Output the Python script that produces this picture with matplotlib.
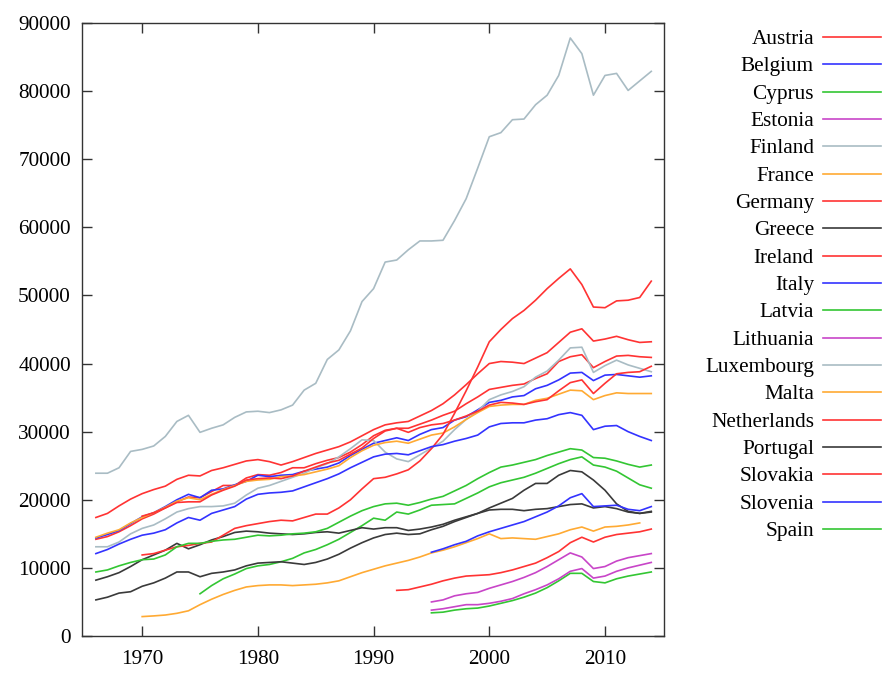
import matplotlib
matplotlib.use("Agg")
import matplotlib.pyplot as plt
from matplotlib.lines import Line2D
import numpy as np

plt.rcParams['font.family'] = ['Liberation Serif', 'DejaVu Serif']

# ---------------- data (GDP per capita) ----------------
countries = ["Austria", "Belgium", "Cyprus", "Estonia", "Finland", "France",
             "Germany", "Greece", "Ireland", "Italy", "Latvia", "Lithuania",
             "Luxembourg", "Malta", "Netherlands", "Portugal", "Slovakia",
             "Slovenia", "Spain"]

start_years = {"Austria": 1966, "Belgium": 1966, "Cyprus": 1975, "Estonia": 1995,
               "Finland": 1966, "France": 1966, "Germany": 1970, "Greece": 1966,
               "Ireland": 1970, "Italy": 1966, "Latvia": 1995, "Lithuania": 1995,
               "Luxembourg": 1966, "Malta": 1970, "Netherlands": 1966,
               "Portugal": 1966, "Slovakia": 1992, "Slovenia": 1995, "Spain": 1966}

austria = [14200, 14600, 15300, 16200, 17200, 17900, 18800, 19700, 20400, 20300,
           21200, 22100, 22100, 23200, 23700, 23600, 24000, 24700, 24700, 25300,
           25800, 26200, 27000, 28100, 29400, 30200, 30500, 30500, 31100, 31700,
           32400, 33000, 34100, 35100, 36200, 36500, 36800, 37000, 37800, 38500,
           40300, 41000, 41300, 39400, 40300, 41100, 41200, 41000, 40900]
belgium = [14400, 14900, 15500, 16500, 17500, 18100, 19000, 20000, 20800, 20300,
           21400, 21600, 22200, 22700, 23600, 23400, 23600, 23700, 24200, 24500,
           24800, 25400, 26500, 27400, 28300, 28700, 29100, 28700, 29600, 30300,
           30600, 31700, 32200, 33200, 34300, 34600, 35100, 35300, 36300, 36800,
           37600, 38600, 38700, 37500, 38300, 38400, 38200, 38000, 38200]
cyprus = [6200, 7400, 8400, 9100, 9900, 10300, 10500, 10900, 11400, 12200,
          12700, 13400, 14200, 15200, 16200, 17300, 17000, 18200, 17900, 18500,
          19200, 19300, 19400, 20200, 21000, 21900, 22500, 22900, 23300, 23900,
          24600, 25300, 25900, 26300, 25100, 24800, 24200, 23200, 22200, 21700]
estonia = [5000, 5300, 5900, 6200, 6400, 7000, 7500, 8000, 8600, 9300,
           10200, 11200, 12200, 11600, 9900, 10200, 11000, 11500, 11800, 12100]
finland = [13100, 13100, 13800, 15000, 15800, 16300, 17200, 18200, 18700, 19000,
           19000, 19100, 19500, 20700, 21700, 22100, 22700, 23300, 23900, 24700,
           25300, 26300, 27500, 28800, 28700, 27000, 26000, 25600, 26600, 27600,
           28600, 30300, 31800, 33000, 34700, 35400, 35900, 36600, 38000, 38900,
           40500, 42300, 42400, 38700, 39700, 40500, 39800, 39300, 38800]
france = [14500, 15100, 15600, 16600, 17400, 18100, 18900, 19800, 20300, 20000,
          20800, 21500, 22100, 22700, 22900, 23000, 23400, 23500, 23700, 24100,
          24500, 25000, 26200, 27200, 28000, 28400, 28600, 28300, 28900, 29500,
          29800, 30700, 31800, 32800, 33700, 33900, 34000, 34000, 34600, 34900,
          35500, 36100, 36000, 34700, 35300, 35700, 35600, 35600, 35600]
germany = [17600, 18100, 18800, 19600, 19700, 19700, 20700, 21400, 22000, 22900,
           23100, 23200, 23100, 23500, 24200, 24800, 25400, 25800, 26700, 27600,
           29000, 30100, 30500, 29900, 30600, 31000, 31200, 31700, 32300, 33000,
           33900, 34300, 34200, 34000, 34400, 34700, 36000, 37200, 37600, 35600,
           37100, 38500, 38700, 38800, 39600]
greece = [8200, 8700, 9300, 10200, 11200, 11900, 12600, 13600, 12800, 13400,
          14100, 14600, 15200, 15400, 15300, 15100, 15000, 14900, 15000, 15200,
          15300, 15100, 15500, 15900, 15700, 15900, 15900, 15500, 15700, 16000,
          16400, 17000, 17500, 18000, 18800, 19500, 20200, 21400, 22400, 22400,
          23600, 24300, 24100, 22900, 21400, 19400, 18300, 18000, 18300]
ireland = [11900, 12100, 12600, 13100, 13300, 13600, 13800, 14800, 15800, 16200,
           16500, 16800, 17000, 16900, 17400, 17900, 17900, 18800, 20000, 21600,
           23100, 23300, 23800, 24400, 25700, 27500, 29600, 32700, 36000, 39500,
           43200, 45000, 46600, 47800, 49300, 51000, 52500, 53900, 51600, 48300,
           48200, 49200, 49300, 49700, 52100]
italy = [12100, 12700, 13500, 14200, 14800, 15100, 15600, 16600, 17400, 17000,
         18000, 18500, 19000, 20100, 20800, 21000, 21100, 21300, 21900, 22500,
         23100, 23800, 24700, 25500, 26300, 26700, 26800, 26600, 27200, 27800,
         28100, 28600, 29000, 29500, 30700, 31200, 31300, 31300, 31700, 31900,
         32500, 32800, 32400, 30300, 30800, 30900, 30000, 29300, 28700]
latvia = [3400, 3500, 3800, 4000, 4100, 4400, 4800, 5200, 5700, 6300,
          7100, 8100, 9200, 9200, 8000, 7800, 8400, 8800, 9100, 9400]
lithuania = [3800, 4000, 4300, 4600, 4600, 4800, 5100, 5500, 6200, 6800,
             7500, 8400, 9500, 9900, 8500, 8800, 9500, 10000, 10400, 10800]
luxembourg = [23900, 23900, 24700, 27100, 27400, 27900, 29300, 31500, 32400, 29900,
              30500, 31000, 32100, 32900, 33000, 32800, 33200, 33900, 36100, 37100,
              40600, 42000, 44800, 49100, 51000, 54900, 55200, 56700, 58000, 58000,
              58100, 61000, 64200, 68700, 73300, 73900, 75800, 75900, 78000, 79400,
              82300, 87800, 85500, 79400, 82300, 82600, 80100, 81500, 82900]
malta = [2850, 2950, 3080, 3330, 3700, 4600, 5400, 6100, 6700, 7200,
         7400, 7500, 7500, 7400, 7500, 7600, 7800, 8100, 8700, 9300,
         9800, 10300, 10700, 11100, 11600, 12200, 12600, 13100, 13700, 14300,
         15000, 14300, 14400, 14300, 14200, 14600, 15000, 15600, 16000, 15400,
         16000, 16100, 16300, 16600]
netherlands = [17400, 18000, 19100, 20100, 20900, 21500, 22000, 23000, 23600, 23500,
               24300, 24700, 25200, 25700, 25900, 25600, 25100, 25600, 26200, 26800,
               27300, 27800, 28500, 29400, 30300, 31000, 31300, 31500, 32300, 33100,
               34100, 35400, 36900, 38500, 40000, 40300, 40200, 40000, 40800, 41600,
               43100, 44600, 45100, 43300, 43600, 44000, 43500, 43100, 43200]
portugal = [5300, 5700, 6300, 6500, 7300, 7800, 8500, 9400, 9400, 8700,
            9200, 9400, 9700, 10300, 10700, 10800, 10900, 10700, 10500, 10800,
            11300, 12000, 12900, 13700, 14400, 14900, 15100, 14900, 15000, 15600,
            16100, 16800, 17400, 18000, 18500, 18600, 18600, 18400, 18600, 18700,
            19000, 19300, 19400, 18800, 19000, 18700, 18200, 18000, 18200]
slovakia = [6700, 6800, 7200, 7600, 8100, 8500, 8800, 8900, 9000, 9300,
            9700, 10200, 10700, 11500, 12400, 13700, 14500, 13800, 14500, 14900,
            15100, 15300, 15700]
slovenia = [12300, 12800, 13400, 13900, 14700, 15300, 15800, 16300, 16800, 17500,
            18200, 19100, 20300, 20900, 19000, 19100, 19200, 18600, 18400, 19000]
spain = [9400, 9700, 10300, 10800, 11200, 11300, 11900, 13100, 13600, 13600,
         13900, 14100, 14200, 14500, 14800, 14700, 14800, 15000, 15100, 15300,
         15800, 16700, 17600, 18400, 19000, 19400, 19500, 19200, 19600, 20100,
         20500, 21300, 22100, 23100, 24000, 24800, 25100, 25500, 25900, 26500,
         27000, 27500, 27300, 26200, 26100, 25700, 25200, 24800, 25100]

series = {"Austria": austria, "Belgium": belgium, "Cyprus": cyprus, "Estonia": estonia,
          "Finland": finland, "France": france, "Germany": germany, "Greece": greece,
          "Ireland": ireland, "Italy": italy, "Latvia": latvia, "Lithuania": lithuania,
          "Luxembourg": luxembourg, "Malta": malta, "Netherlands": netherlands,
          "Portugal": portugal, "Slovakia": slovakia, "Slovenia": slovenia, "Spain": spain}

x_ticks = [1970, 1980, 1990, 2000, 2010]
y_ticks = list(range(0, 90001, 10000))

# ---------------- style ----------------
palette = ['#ff3333', '#3333ff', '#33c633', '#c845c8', '#a9bcc4', '#ffaa33', '#ff3333', '#3a3a3a']
W, H = 884, 674
fs = 15.3

fig = plt.figure(figsize=(W / 100, H / 100), dpi=100)
ax = fig.add_axes([82 / W, 38 / H, 582 / W, 613 / H])

for i, name in enumerate(countries):
    vals = series[name]
    yrs = np.arange(start_years[name], start_years[name] + len(vals))
    ax.plot(yrs, vals, color=palette[i % len(palette)], lw=1.2, solid_joinstyle='round')

ax.set_xlim(1964.8, 2015.1)
ax.set_ylim(0, 90000)
ax.set_xticks(x_ticks)
ax.set_yticks(y_ticks)
ax.tick_params(axis='both', direction='in', length=7.5, width=1.0, color='#333333',
               top=True, right=True, labelsize=fs)
ax.tick_params(axis='x', pad=10)
ax.tick_params(axis='y', pad=8)
for s in ax.spines.values():
    s.set_color('#333333')
    s.set_linewidth(1.0)

# legend (gnuplot style: right-aligned text then sample line)
row0, drow = 37.0, 27.33
for i, name in enumerate(countries):
    yline = row0 + i * drow
    fig.text(814 / W, 1 - (yline + 7) / H, name, ha='right', va='baseline', fontsize=fs)
    fig.add_artist(Line2D([823 / W, 881 / W], [1 - yline / H, 1 - yline / H],
                          transform=fig.transFigure, color=palette[i % len(palette)], lw=1.2))

fig.savefig("out.png", dpi=100)
